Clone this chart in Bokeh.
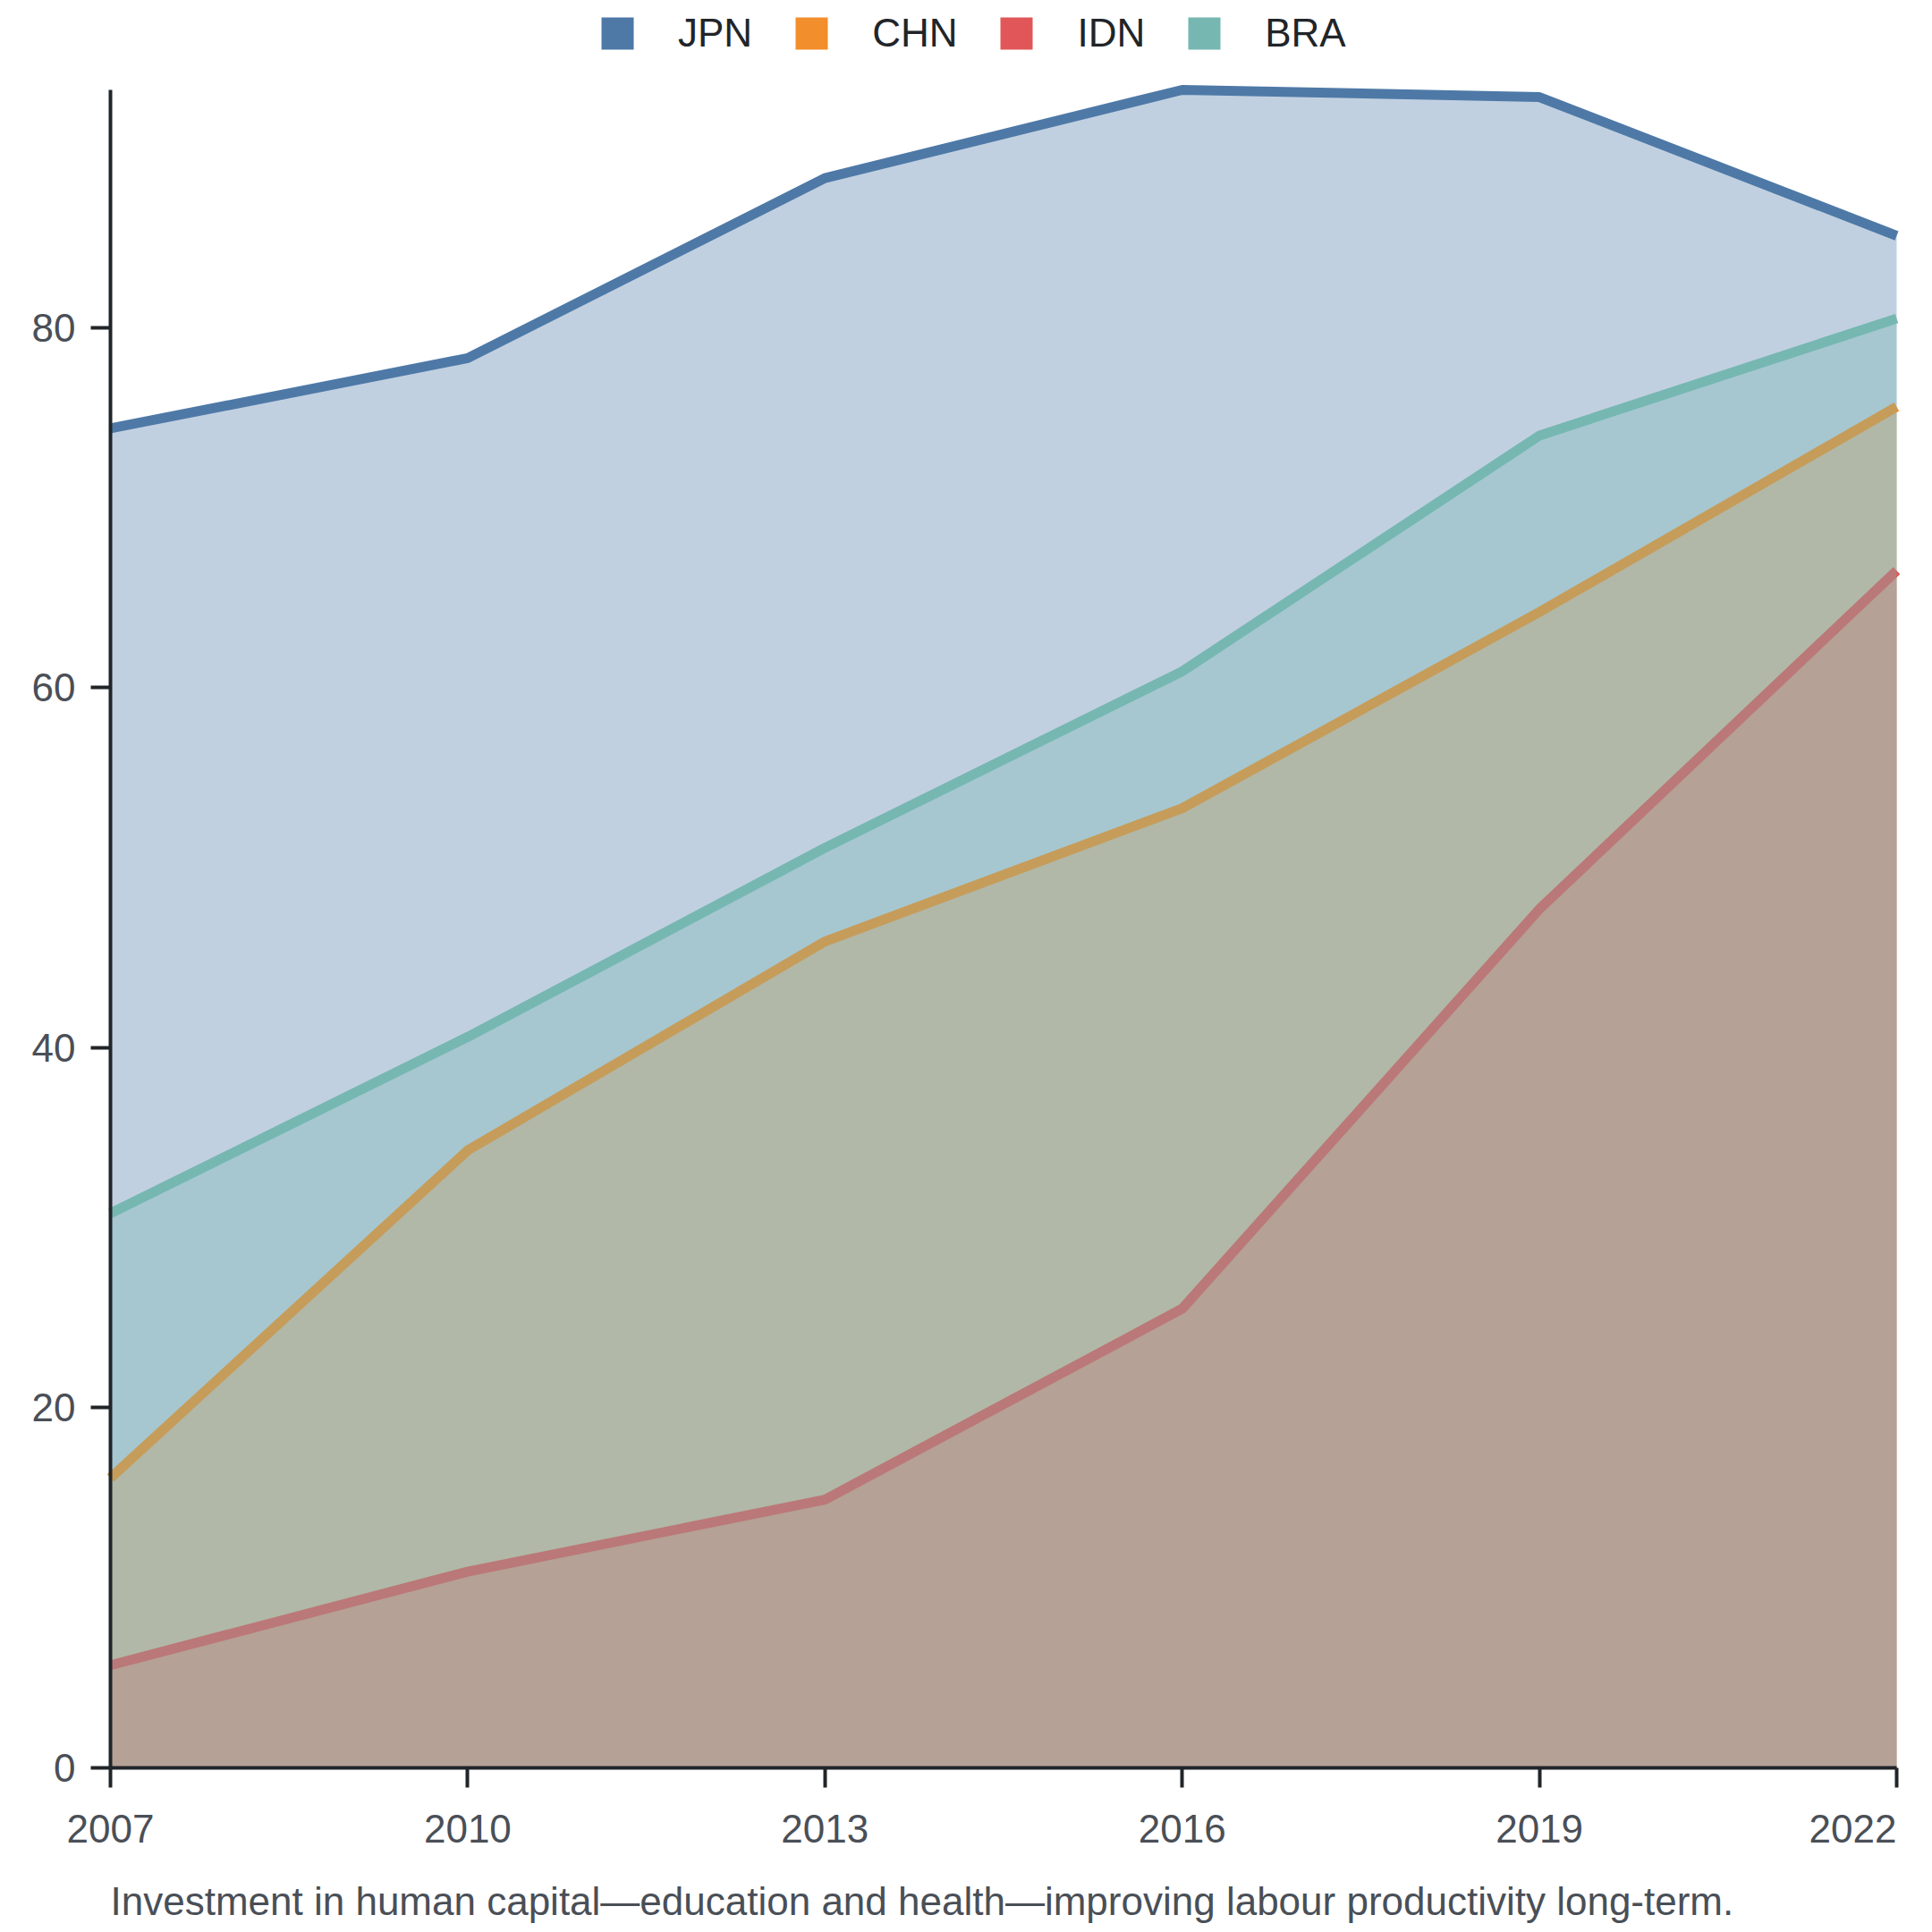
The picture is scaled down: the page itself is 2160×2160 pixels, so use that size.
from bokeh import plotting
from bokeh.embed import file_html
from bokeh.resources import INLINE
from bokeh.models import ColumnDataSource, Legend, LegendItem, Range1d, FixedTicker, Label

years = [2007, 2010, 2013, 2016, 2019, 2022]
jpn = [74.4, 78.3, 88.3, 93.2, 92.8, 85.1]
chn = [16.1, 34.3, 45.9, 53.3, 64.2, 75.6]
idn = [5.7, 10.9, 14.9, 25.5, 47.7, 66.5]
bra = [30.8, 40.6, 51.1, 60.9, 74.0, 80.5]

series = [("JPN", jpn, "#4e79a7"), ("CHN", chn, "#f28e2b"),
          ("IDN", idn, "#e15759"), ("BRA", bra, "#76b7b2")]
y_ticks = [0, 20, 40, 60, 80]
caption = "Investment in human capital\u2014education and health\u2014improving labour productivity long-term."

FONT = "Liberation Sans"
TEXT = "#4a4f57"
INK = "#212529"

# the frame covers the whole canvas so nothing gets clipped; the axes are
# pinned inside it. plot box in px: x 123..2120, y 100..1976
W, H = 2152, 2160
left, right, top, bottom = 123, 2120, 100, 1976
ymax = max(jpn)
ppx = (right - left) / (years[-1] - years[0])
ppu = (bottom - top) / ymax
x_range = Range1d(years[0] - left / ppx, years[-1] + (W - right) / ppx)
y_range = Range1d(-(H - bottom) / ppu, ymax + top / ppu)

p = plotting.figure(
    frame_width=W, frame_height=H,
    x_range=x_range, y_range=y_range,
    output_backend="svg",
    toolbar_location=None,
    min_border=0,
)
p.outline_line_color = None
p.xgrid.visible = False
p.ygrid.visible = False

nan = float("nan")
items = []
for name, vals, color in series:
    src = ColumnDataSource(dict(x=years, y=vals))
    p.varea(x="x", y1=0, y2="y", source=src, fill_color=color, fill_alpha=0.35)
    p.line(x="x", y="y", source=src, line_color=color, line_width=11, line_join="round")
    # legend swatch only, never drawn in the plot
    dummy = p.scatter(x=[nan], y=[nan], marker="square", size=36,
                      fill_color=color, line_color=None)
    items.append(LegendItem(label=name, renderers=[dummy]))

legend = Legend(items=items, orientation="horizontal", location=(645, H - 82),
                glyph_width=90, glyph_height=90, label_standoff=23, spacing=21,
                padding=0, margin=0, background_fill_alpha=0, border_line_alpha=0,
                label_text_font=FONT, label_text_font_size="44px", label_text_color=INK)
p.add_layout(legend, "center")

for ax in (p.xaxis, p.yaxis):
    ax.axis_line_width = 4
    ax.axis_line_color = INK
    ax.major_tick_line_width = 4
    ax.major_tick_line_color = INK
    ax.major_tick_out = 22
    ax.major_tick_in = 0
    ax.minor_tick_line_color = None
    ax.major_label_text_font = FONT
    ax.major_label_text_font_size = "44px"
    ax.major_label_text_color = TEXT

p.xaxis.ticker = FixedTicker(ticks=years)
p.xaxis.fixed_location = 0
p.xaxis.bounds = (years[0], years[-1])
p.xaxis.major_label_standoff = 30
p.yaxis.ticker = FixedTicker(ticks=y_ticks)
p.yaxis.fixed_location = years[0]
p.yaxis.bounds = (0, ymax)
p.yaxis.major_label_standoff = 17
# last year label sits right-aligned at the edge
p.xaxis.major_label_overrides = {years[-1]: ""}
p.add_layout(Label(x=years[-1], y=0, y_offset=-52, text=str(years[-1]),
                   text_align="right", text_baseline="top",
                   text_font=FONT, text_font_size="44px", text_color=TEXT))

p.add_layout(Label(x=years[0], y=0, y_offset=-124, text=caption,
                   text_align="left", text_baseline="top",
                   text_font=FONT, text_font_size="44px", text_color=TEXT))

open("out.html", "w").write(file_html(p, INLINE))
